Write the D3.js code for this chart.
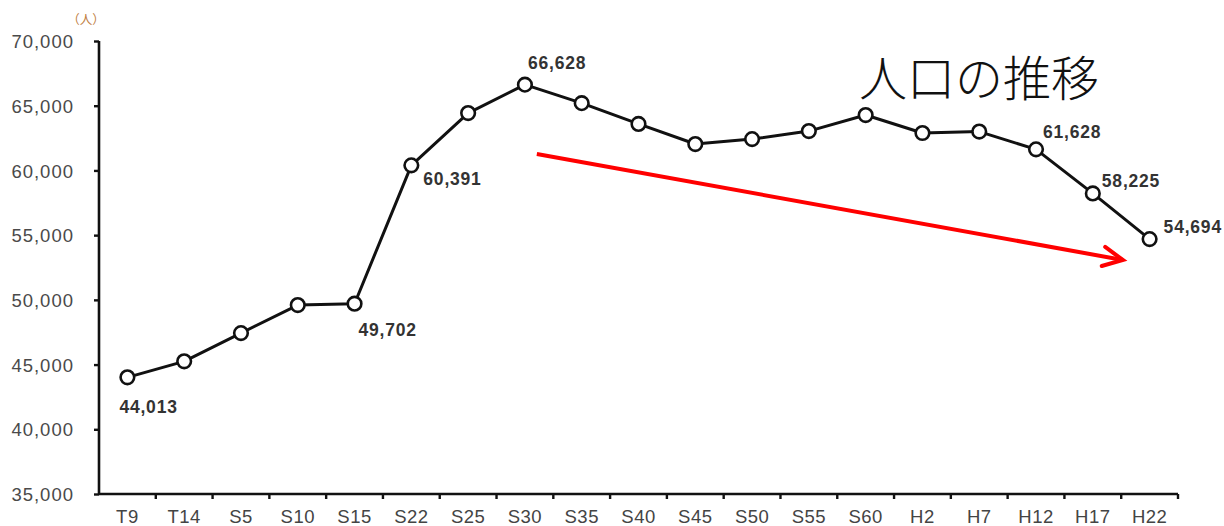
<!DOCTYPE html>
<html>
<head>
<meta charset="utf-8">
<script src="https://cdn.jsdelivr.net/npm/d3@7/dist/d3.min.js"></script>
<style>
  html, body { margin: 0; padding: 0; background: #fff; }
  svg { display: block; }
</style>
</head>
<body>
<svg id="chart" width="1224" height="526"></svg>
<script>
// Census periods (Taishō / Shōwa / Heisei years)
const categories = ["T9","T14","S5","S10","S15","S22","S25","S30","S35","S40","S45","S50","S55","S60","H2","H7","H12","H17","H22"];
// Population (persons)
const population = [44013,45250,47430,49600,49702,60391,64430,66628,65200,63590,62040,62420,63040,64280,62890,63000,61628,58225,54694];
// Y axis ticks
const yTicks = [35000,40000,45000,50000,55000,60000,65000,70000];
// Points that carry a value label
const labelled = ["T9","S15","S22","S30","H12","H17","H22"];
// Trend arrow, in category-index / population units
const trendStart = {i: 7.21, v: 61270};
const trendEnd = {i: 17.53, v: 53080};

const title = "人口の推移";
const unit = "（人）";

const svg = d3.select("#chart");
const plotLeft = 99, plotRight = 1178, plotTop = 41, plotBottom = 494;

const x = d3.scaleBand().domain(categories).range([plotLeft, plotRight]).padding(0);
const y = d3.scaleLinear().domain([35000, 70000]).range([plotBottom, plotTop]);
const cx = c => x(c) + x.bandwidth() / 2;
const xi = i => plotLeft + (i + 0.5) * x.step();

const fmt = d3.format(",");
const sans = "'Liberation Sans', Arial, sans-serif";

// Y axis
const yAxis = svg.append("g")
  .attr("transform", `translate(${plotLeft},0)`)
  .call(d3.axisLeft(y).tickValues(yTicks).tickFormat(fmt).tickSize(5).tickPadding(20));
yAxis.select(".domain").attr("stroke", "#111").attr("stroke-width", 2.6)
  .attr("d", `M0,${plotTop}V${plotBottom}`);
yAxis.selectAll(".tick line").attr("stroke", "#111").attr("stroke-width", 2.4);
yAxis.selectAll(".tick text")
  .attr("font-family", sans).attr("letter-spacing", 1)
  .attr("font-size", 18.5).attr("fill", "#4a4a4a").attr("dy", "0.36em");

// X axis: labels at category centres, ticks at category boundaries
const xAxis = svg.append("g")
  .attr("transform", `translate(0,${plotBottom})`)
  .call(d3.axisBottom(x).tickSize(0).tickPadding(16));
xAxis.select(".domain").attr("stroke", "#111").attr("stroke-width", 2.6)
  .attr("d", `M${plotLeft},0H${plotRight}`);
xAxis.selectAll(".tick text")
  .attr("font-family", sans).attr("letter-spacing", 0.5)
  .attr("font-size", 18.5).attr("fill", "#444");
const bounds = categories.map(c => x(c) + x.bandwidth());
xAxis.selectAll("line.bound").data(bounds).join("line")
  .attr("class", "bound")
  .attr("x1", d => d).attr("x2", d => d)
  .attr("y1", 0).attr("y2", 5)
  .attr("stroke", "#111").attr("stroke-width", 2.4);

// Unit label
svg.append("text")
  .attr("x", plotLeft - 13).attr("y", 24)
  .attr("text-anchor", "middle")
  .attr("font-family", "'Noto Sans CJK JP', sans-serif")
  .attr("font-size", 12.5).attr("fill", "#c0803f")
  .text(unit);

// Population line
const line = d3.line().x((d, i) => cx(categories[i])).y(d => y(d));
svg.append("path")
  .datum(population)
  .attr("d", line)
  .attr("fill", "none").attr("stroke", "#111").attr("stroke-width", 3)
  .attr("stroke-linejoin", "round");

svg.selectAll("circle.pt").data(population).join("circle")
  .attr("class", "pt")
  .attr("cx", (d, i) => cx(categories[i]))
  .attr("cy", d => y(d))
  .attr("r", 6.8)
  .attr("fill", "#fff").attr("stroke", "#111").attr("stroke-width", 2.6);

// Value labels, placed around their points
const labelOffset = {
  T9:  {dx: -8, dy: 36},
  S15: {dx: 4,  dy: 32},
  S22: {dx: 12, dy: 20},
  S30: {dx: 3,  dy: -16},
  H12: {dx: 7,  dy: -11},
  H17: {dx: 9,  dy: -6},
  H22: {dx: 14, dy: -6}
};
svg.selectAll("text.val").data(labelled).join("text")
  .attr("class", "val")
  .attr("x", c => cx(c) + labelOffset[c].dx)
  .attr("y", c => y(population[categories.indexOf(c)]) + labelOffset[c].dy)
  .attr("font-family", sans).attr("letter-spacing", 0.8)
  .attr("font-size", 17.5).attr("font-weight", "bold").attr("fill", "#333")
  .text(c => fmt(population[categories.indexOf(c)]));

// Declining trend arrow
const x0 = xi(trendStart.i), y0 = y(trendStart.v);
const x1 = xi(trendEnd.i), y1 = y(trendEnd.v);
const ang = Math.atan2(y1 - y0, x1 - x0);
const head = 22, spread = 26 * Math.PI / 180;
const b1 = [x1 - head * Math.cos(ang - spread), y1 - head * Math.sin(ang - spread)];
const b2 = [x1 - head * Math.cos(ang + spread), y1 - head * Math.sin(ang + spread)];
svg.append("path")
  .attr("d", `M${x0},${y0}L${x1},${y1}`)
  .attr("stroke", "#ff0000").attr("stroke-width", 4).attr("fill", "none");
svg.append("path")
  .attr("d", `M${b1[0]},${b1[1]}L${x1},${y1}L${b2[0]},${b2[1]}`)
  .attr("stroke", "#ff0000").attr("stroke-width", 4).attr("fill", "none")
  .attr("stroke-linejoin", "miter").attr("stroke-linecap", "round");

// Title
svg.append("text")
  .attr("x", 859).attr("y", 96)
  .attr("font-family", "'Noto Sans CJK JP', sans-serif")
  .attr("font-size", 48).attr("font-weight", 300).attr("fill", "#111")
  .text(title);
</script>
</body>
</html>
